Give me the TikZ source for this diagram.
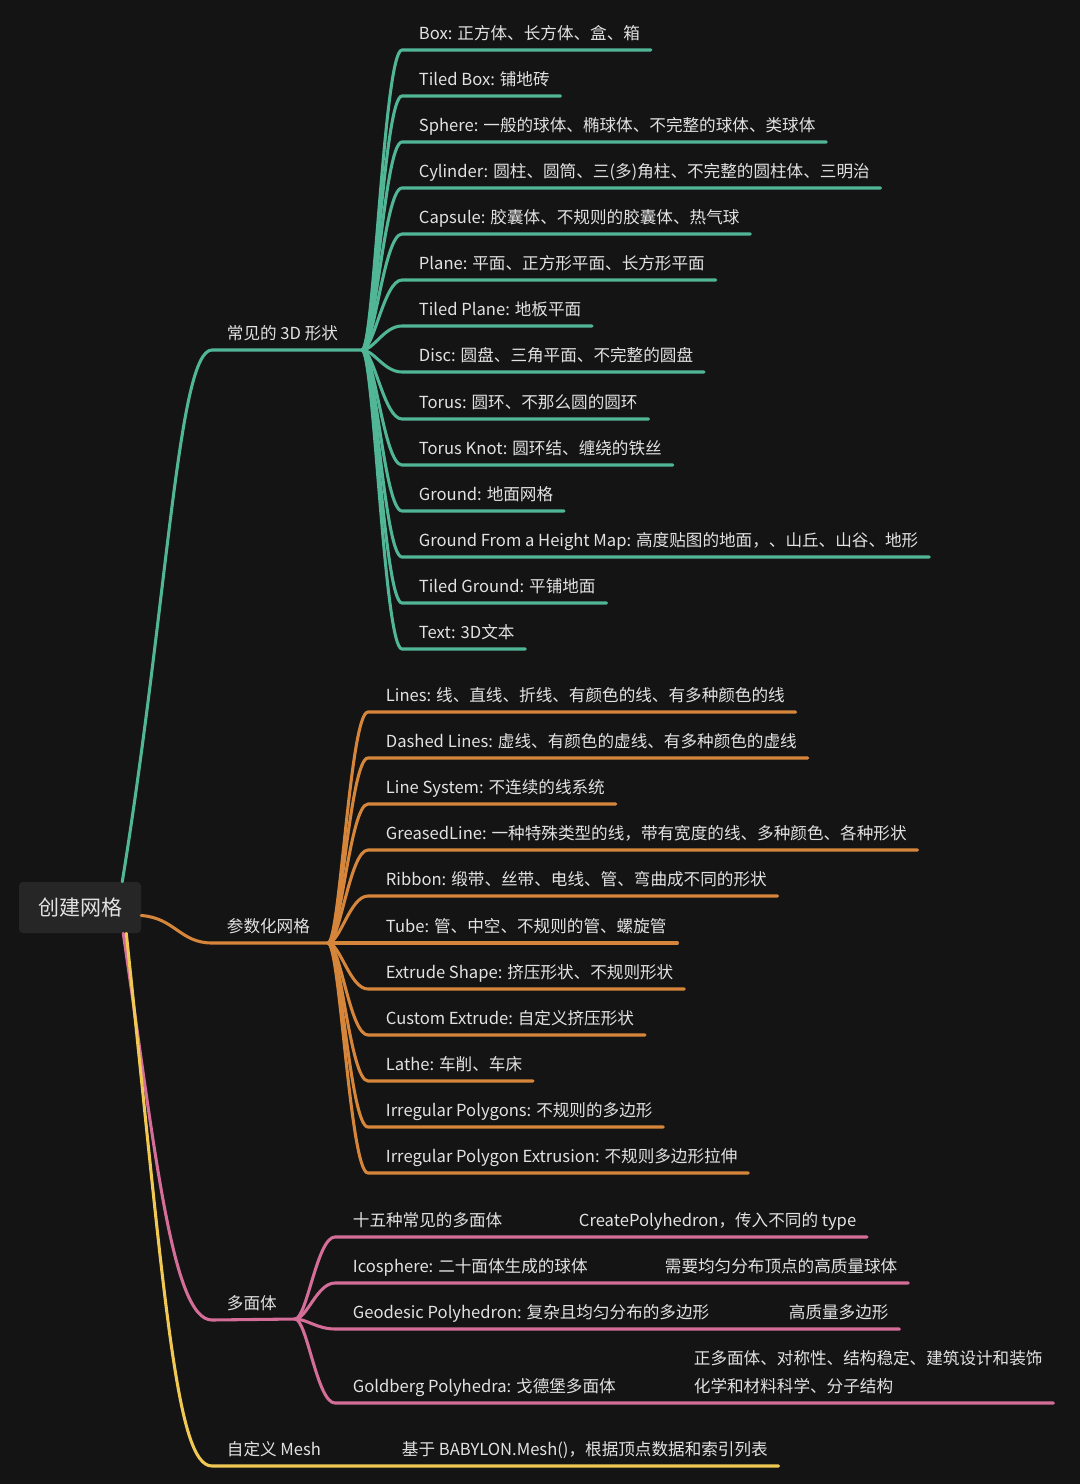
\documentclass[tikz,border=0pt]{standalone}
\usepackage{fontspec}
\setmainfont{Noto Sans CJK SC}
\usetikzlibrary{calc}
\definecolor{bgc}{RGB}{20,20,20}
\definecolor{rootc}{RGB}{38,38,38}
\definecolor{txtc}{RGB}{226,226,226}
\definecolor{grn}{RGB}{80,182,150}
\definecolor{org}{RGB}{214,134,58}
\definecolor{pnk}{RGB}{212,110,152}
\definecolor{ylw}{RGB}{240,200,84}
\begin{document}
\begin{tikzpicture}[
    x=0.75pt,y=-0.75pt,
    every node/.style={text=txtc,font=\fontsize{12.45pt}{21pt}\selectfont},
    item/.style={anchor=south west,inner xsep=8pt,inner ysep=7.9pt,text depth=0pt},
    branch/.style={line width=2.3pt,line cap=round},
    gline/.style={branch,draw=grn},
    oline/.style={branch,draw=org},
    pline/.style={branch,draw=pnk},
    yline/.style={branch,draw=ylw},
    rootbox/.style={fill=rootc,rounded corners=3pt,minimum width=91.5pt,minimum height=38.25pt,
      font=\fontsize{15.75pt}{18pt}\selectfont}
  ]
    % canvas
    \fill[bgc] (0,0) rectangle (1080,1484);
    \useasboundingbox (0,0) rectangle (1080,1484);

    % root
    \node[rootbox] (root) at (80,907.5) {创建网格};
    \coordinate (gs) at ($(root.north east)+(-19,0)$);
    \coordinate (os) at ($(root.east)+(0,8)$);
    \coordinate (ps) at ($(root.south east)+(-18,0)$);
    \coordinate (ys) at ($(root.south east)+(-15,0)$);

    % hubs
    \coordinate (ghub) at (362,350);
    \coordinate (ohub) at (328,943);
    \coordinate (phub) at (295,1319);

    % main branches
    \node[item] (glab) at (216,350) {常见的 3D 形状};
    \node[item] (olab) at (216,943) {参数化网格};
    \node[item] (plab) at (216,1320) {多面体};
    \node[item] (ylab) at (216,1466) {自定义 Mesh};
    \draw[gline] (gs) .. controls (168,600) and (178,350) .. (212,350) -- (ghub);
    \draw[oline] (os) .. controls (175,918) and (180,943) .. (212,943) -- (ohub);
    \draw[pline] (ps) .. controls (155,1150) and (172,1320) .. (212,1320) -- (phub);

    % common 3D shapes
    \foreach \nm/\y/\t in {
        box/50/{Box: 正方体、长方体、盒、箱},
        tbox/96/{Tiled Box: 铺地砖},
        sph/142/{Sphere: 一般的球体、椭球体、不完整的球体、类球体},
        cyl/188/{Cylinder: 圆柱、圆筒、三(多)角柱、不完整的圆柱体、三明治},
        cap/234/{Capsule: 胶囊体、不规则的胶囊体、热气球},
        pla/280/{Plane: 平面、正方形平面、长方形平面},
        tpla/326/{Tiled Plane: 地板平面},
        disc/372/{Disc: 圆盘、三角平面、不完整的圆盘},
        tor/419/{Torus: 圆环、不那么圆的圆环},
        tknot/465/{Torus Knot: 圆环结、缠绕的铁丝},
        gnd/511/{Ground: 地面网格},
        hmap/557/{Ground From a Height Map: 高度贴图的地面，、山丘、山谷、地形},
        tgnd/603/{Tiled Ground: 平铺地面},
        txt/649/{Text: 3D文本}} {
      \node[item] (\nm) at (408,\y) {\t};
      \draw[gline] (ghub) .. controls (374,350) and (384,\y) .. (402,\y) -- (\nm.south east);
    }

    % parametric meshes
    \foreach \nm/\y/\t in {
        lin/712/{Lines: 线、直线、折线、有颜色的线、有多种颜色的线},
        dash/758/{Dashed Lines: 虚线、有颜色的虚线、有多种颜色的虚线},
        lsys/804/{Line System: 不连续的线系统},
        grease/850/{GreasedLine: 一种特殊类型的线，带有宽度的线、多种颜色、各种形状},
        rib/896/{Ribbon: 缎带、丝带、电线、管、弯曲成不同的形状},
        tube/943/{Tube: 管、中空、不规则的管、螺旋管},
        ext/989/{Extrude Shape: 挤压形状、不规则形状},
        cext/1035/{Custom Extrude: 自定义挤压形状},
        lathe/1081/{Lathe: 车削、车床},
        ipoly/1127/{Irregular Polygons: 不规则的多边形},
        ipext/1173/{Irregular Polygon Extrusion: 不规则多边形拉伸}} {
      \node[item] (\nm) at (375,\y) {\t};
      \draw[oline] (ohub) .. controls (340,943) and (350,\y) .. (368,\y) -- (\nm.south east);
    }

    % polyhedra
    \foreach \nm/\y/\t/\dx/\d in {
        pfif/1237/{十五种常见的多面体}/568/{CreatePolyhedron，传入不同的 type},
        pico/1283/{Icosphere: 二十面体生成的球体}/654/{需要均匀分布顶点的高质量球体},
        pgeo/1329/{Geodesic Polyhedron: 复杂且均匀分布的多边形}/778/{高质量多边形}} {
      \node[item] (\nm) at (342,\y) {\t};
      \node[item] (\nm-d) at (\dx,\y) {\d};
      \draw[pline] (phub) .. controls (307,1319) and (317,\y) .. (335,\y) -- (\nm-d.south east);
    }
    \node[item] (pgol) at (342,1403) {Goldberg Polyhedra: 戈德堡多面体};
    \node[item] (pgol-b) at (683,1403) {化学和材料科学、分子结构};
    \node[item] (pgol-a) at (683,1375) {正多面体、对称性、结构稳定、建筑设计和装饰};
    \draw[pline] (phub) .. controls (307,1319) and (317,1403) .. (335,1403) -- (pgol-a.east |- pgol-b.south);

    % custom mesh
    \node[item] (ydesc) at (391,1466) {基于 BABYLON.Mesh()，根据顶点数据和索引列表};
    \draw[yline] (ys) .. controls (165,1300) and (176,1466) .. (212,1466) -- (ydesc.south east);
  \end{tikzpicture}
\end{document}
